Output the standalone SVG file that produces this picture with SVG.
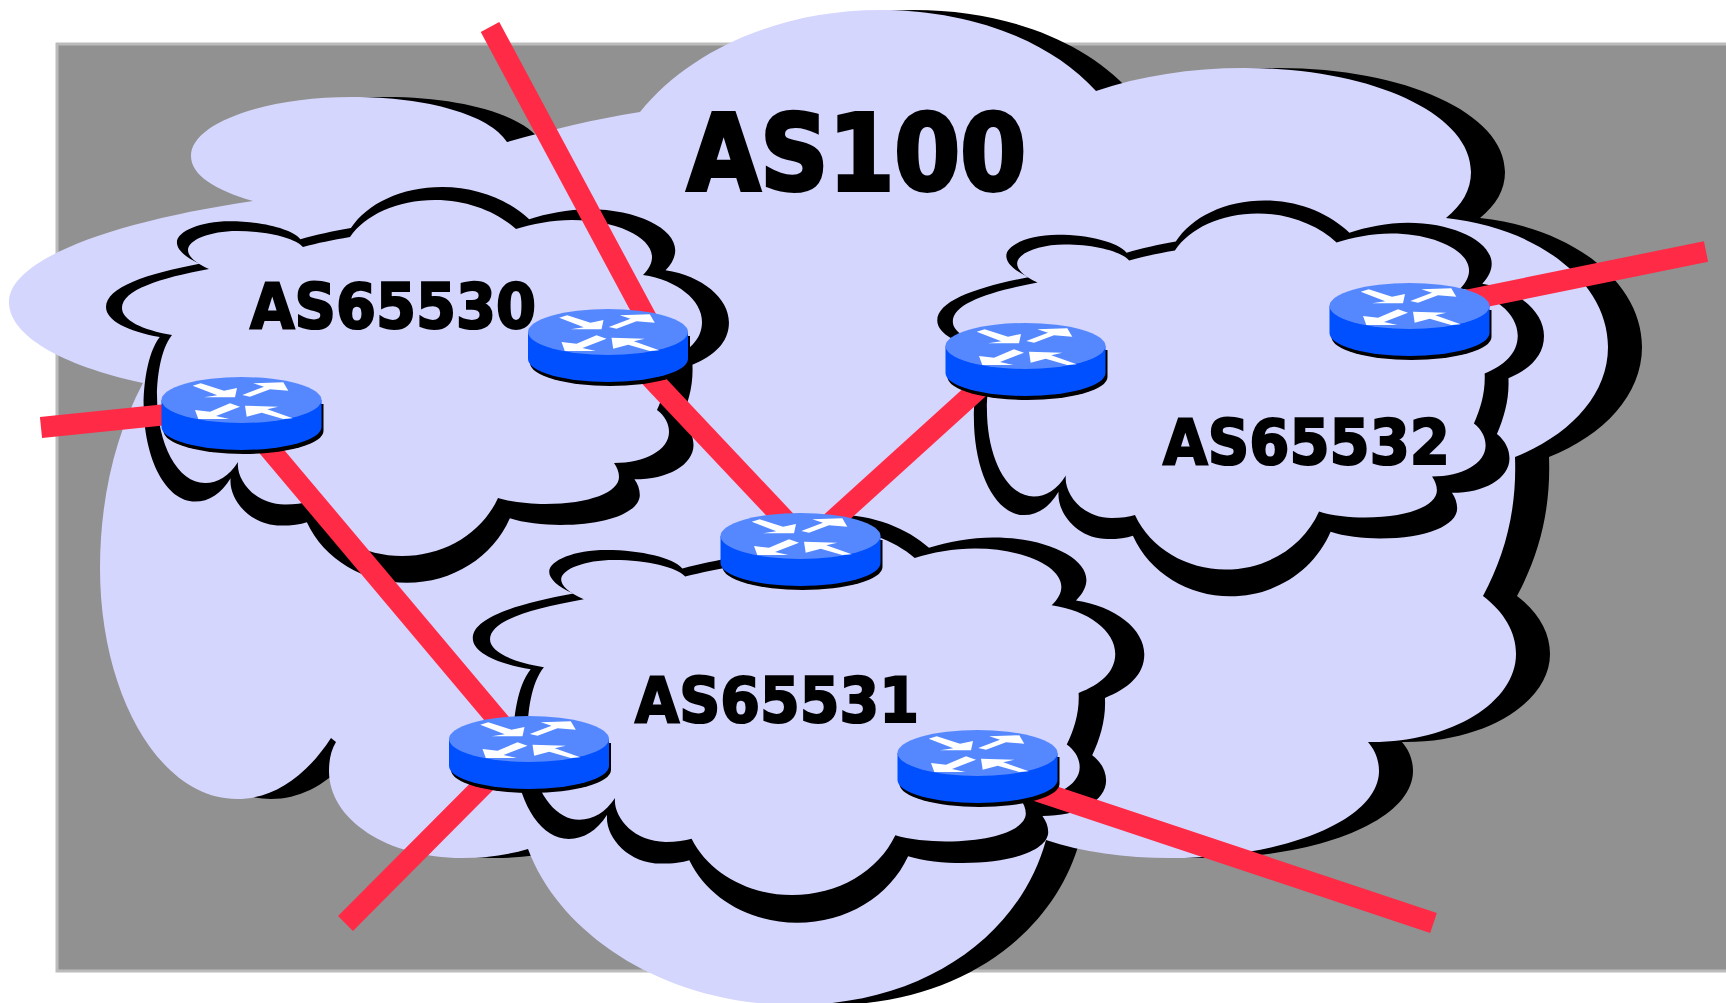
<svg xmlns="http://www.w3.org/2000/svg" xmlns:xlink="http://www.w3.org/1999/xlink" width="1726" height="1003" viewBox="0 0 1726 1003">
<style>
.bg{fill:#919191;stroke:#bbbbbb;stroke-width:3}
.cf{fill:#d5d6fd}
.cs{fill:#000}
.link{stroke:#ff2a45;stroke-width:21;fill:none}
.lab{font-family:"DejaVu Sans",sans-serif;font-weight:bold;fill:#000;stroke:#000;stroke-width:2.2}
</style>
<defs>
<path id="big" d="M253,201 C215,190 191,175 191,156 C191,123 265,97 352,97 C428,97 490,115 507,142 C550,130 595,119 640,112 C690,50 780,10 880,10 C970,10 1050,40 1096,91 C1140,76 1190,68 1245,68 C1370,68 1471,113 1471,172 C1471,190 1462,205 1446,218 C1540,228 1608,283 1608,347 C1608,395 1570,435 1515,457 C1517,510 1505,555 1483,596 C1504,612 1516,632 1516,654 C1516,702 1452,742 1372,742 L1368,742 C1375,750 1379,760 1379,771 C1379,820 1285,858 1171,858 C1125,858 1082,852 1046,840 C1020,935 925,1005 795,1005 C665,1005 560,935 528,849 C508,855 485,858 462,858 C388,858 329,820 329,771 C329,760 331,750 336,742 L331,738 C305,778 272,799 237,799 C160,799 100,695 100,568 C100,500 115,435 143,383 C60,365 9,335 9,302 C9,260 110,222 253,201 Z"/>
<path id="as" d="M209,269 C160,278 122,290 122,308 C122,320 142,330 172,335 C160,350 157,380 157,395 C157,445 178,483 205,483 C218,483 229,476 238,462 C236,480 255,504.5 285,504.5 C295,504.5 303,503.5 309,501.5 C325,535 362,556 402,556 C445,556 482,533 498,498 C510,502 530,504 545,504 C590,504 619,492 619,477 C619,472 617,467 614,463 C645,463 669,450 669,432 C669,424 665,416 657,410 C664,395 669,378 668,360 C688,352 702,340 702,322 C702,300 677,280 643,275 C649,269 652,263 652,257 C652,237 616,220 572,220 C552,220 532,224 516,229 C497,212 468,200 435,200 C397,200 365,215 350,237 C332,240 318,243 303,247 C295,238 268,231 237,231 C210,231 188,240 188,250 C188,256 195,263 209,269 Z"/>
<g id="router">
<path fill="#000" d="M-78,4 H82 V31 A80,23 0 0 1 -78,31 Z"/>
<path fill="#0050ff" d="M-80,0 H80 V27 A80,23 0 0 1 -80,27 Z"/>
<ellipse cx="0" cy="0" rx="80" ry="23" fill="#5588ff"/>
<g fill="#fff">
<polygon points="-48.8,-14.3 -40.8,-16.7 -17.5,-9.3 -4.5,-12 -6.5,-2.7 -37.5,-2.7 -24.2,-4.7"/>
<polygon points="0.8,-5 8.5,-3.3 28.5,-10.7 46.8,-9.3 41.8,-17.7 11.8,-16.7 22.5,-13.3"/>
<polygon points="-1.5,6.7 -11.5,3.3 -31.5,11.7 -46.5,10 -43.2,19 -12.2,19 -25.5,16"/>
<polygon points="51.2,18.3 41.8,19 20.2,12.7 5.2,16.7 3.5,5.7 36.8,6.7 25.8,9.3"/>
</g>
</g>
</defs>
<rect class="bg" x="57" y="44" width="1680" height="927"/>
<g id="as100">
<use href="#big" class="cs" transform="translate(34,0)"/>
<use href="#big" class="cf"/>
<text class="lab" x="687" y="190" font-size="105" textLength="339" lengthAdjust="spacingAndGlyphs" style="stroke-width:4">AS100</text>
</g>
<g id="as65530">
<use href="#as" class="cs" transform="matrix(1.074 0 0 1.112 -25 -35.5)"/>
<use href="#as" class="cf"/>
<text class="lab" x="250" y="327.5" font-size="62" textLength="286" lengthAdjust="spacingAndGlyphs">AS65530</text>
</g>
<g id="as65531">
<g transform="matrix(1.078 0 0 1.031 358.5 321.8)">
<use href="#as" class="cs" transform="matrix(1.074 0 0 1.112 -25 -35.5)"/>
<use href="#as" class="cf"/>
</g>
<text class="lab" x="635" y="721.5" font-size="62" textLength="284" lengthAdjust="spacingAndGlyphs">AS65531</text>
</g>
<g id="as65532">
<g transform="matrix(0.974 0 0 1 834 13.5)">
<use href="#as" class="cs" transform="matrix(1.074 0 0 1.112 -25 -35.5)"/>
<use href="#as" class="cf"/>
</g>
<text class="lab" x="1163" y="463.5" font-size="62" textLength="287" lengthAdjust="spacingAndGlyphs">AS65532</text>
</g>
<g id="connectors">
<line class="link" x1="490" y1="27" x2="650" y2="325"/>
<line class="link" x1="620" y1="345" x2="800" y2="536"/>
<line class="link" x1="1025.5" y1="346" x2="805" y2="546"/>
<line class="link" x1="1706" y1="251.5" x2="1409" y2="312"/>
<line class="link" x1="41" y1="427.5" x2="240" y2="407"/>
<line class="link" x1="241" y1="415" x2="529" y2="757"/>
<line class="link" x1="345.5" y1="923.5" x2="529" y2="739"/>
<line class="link" x1="1433.5" y1="923" x2="977.5" y2="771"/>
</g>
<use id="r1" href="#router" x="241.5" y="400"/>
<use id="r2" href="#router" x="608" y="332"/>
<use id="r3" href="#router" x="1025.5" y="346"/>
<use id="r4" href="#router" x="1409.5" y="306"/>
<use id="r5" href="#router" x="800.5" y="536"/>
<use id="r6" href="#router" x="529" y="739"/>
<use id="r7" href="#router" x="977.5" y="753"/>
</svg>
